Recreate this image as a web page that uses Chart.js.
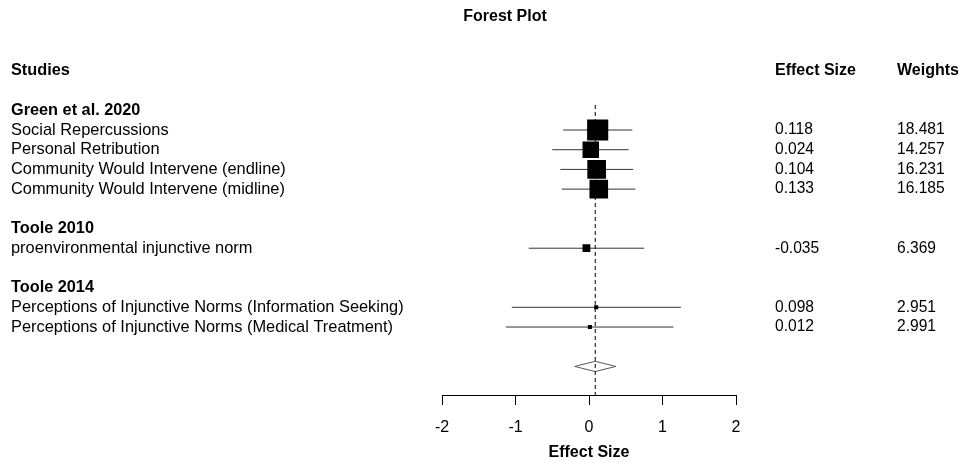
<!DOCTYPE html>
<html>
<head>
<meta charset="utf-8">
<title>Forest Plot</title>
<script src="https://cdn.jsdelivr.net/npm/chart.js@4.4.1/dist/chart.umd.min.js"></script>
<style>
  html, body { margin: 0; padding: 0; background: #fff; }
  canvas { display: block; }
</style>
</head>
<body>
<canvas id="forestChart" width="962" height="462"></canvas>
<script>
/* ===== DATA ===== */
const groups = ['Green et al. 2020', 'Toole 2010', 'Toole 2014'];
const studyGroup = [0, 0, 0, 0, 1, 2, 2];
const studies = [
  'Social Repercussions',
  'Personal Retribution',
  'Community Would Intervene (endline)',
  'Community Would Intervene (midline)',
  'proenvironmental injunctive norm',
  'Perceptions of Injunctive Norms (Information Seeking)',
  'Perceptions of Injunctive Norms (Medical Treatment)'
];
const effectSizes = [0.118, 0.024, 0.104, 0.133, -0.035, 0.098, 0.012];
const ciLower = [-0.35, -0.50, -0.39, -0.37, -0.82, -1.05, -1.13];
const ciUpper = [0.59, 0.54, 0.60, 0.63, 0.75, 1.25, 1.15];
const weights = [18.481, 14.257, 16.231, 16.185, 6.369, 2.951, 2.991];
const summaryEffect = 0.085;
const summaryLower = -0.195;
const summaryUpper = 0.365;
const xTicks = [-2, -1, 0, 1, 2];

/* ===== LAYOUT ===== */
const FONT = '"Liberation Sans", Arial, Helvetica, sans-serif';
const COL_STUDY = 11;
const COL_EFFECT = 775;
const COL_WEIGHT = 897;

// row numbers: group header, its studies, then one blank row
const headerRows = [];
const studyRows = [];
let row = 1;
groups.forEach((g, gi) => {
  headerRows.push(row++);
  studyGroup.forEach((sg, i) => {
    if (sg === gi) studyRows[i] = row++;
  });
  row++;
});
const summaryRow = row;
const Y_MAX = 15.45;

// side of the square grows with the weight
function boxRadius(w) {
  return (1.1 * w + 0.8) / (2 * Math.SQRT1_2);
}

const ciSets = studies.map((s, i) => ({
  data: [{ x: ciLower[i], y: studyRows[i] }, { x: ciUpper[i], y: studyRows[i] }],
  showLine: true,
  borderColor: '#333',
  borderWidth: 1,
  pointRadius: 0
}));

const textPlugin = {
  id: 'forestText',
  afterDraw(chart) {
    const { ctx, scales: { y } } = chart;
    ctx.save();
    ctx.fillStyle = '#000';
    ctx.textBaseline = 'middle';

    ctx.font = 'bold 16px ' + FONT;
    ctx.textAlign = 'center';
    ctx.fillText('Forest Plot', 505, 17);

    ctx.textAlign = 'left';
    const headY = y.getPixelForValue(-1);
    ctx.fillText('Effect Size', COL_EFFECT, headY);
    ctx.fillText('Weights', COL_WEIGHT, headY);

    ctx.font = 'bold 16.3px ' + FONT;
    ctx.fillText('Studies', COL_STUDY, headY);
    groups.forEach((g, gi) => {
      ctx.fillText(g, COL_STUDY, y.getPixelForValue(headerRows[gi]));
    });

    studies.forEach((s, i) => {
      const py = y.getPixelForValue(studyRows[i]);
      ctx.font = '16.4px ' + FONT;
      ctx.fillText(s, COL_STUDY, py);
      ctx.font = '15.6px ' + FONT;
      ctx.fillText(effectSizes[i].toFixed(3), COL_EFFECT, py);
      ctx.fillText(weights[i].toFixed(3), COL_WEIGHT, py);
    });
    ctx.restore();
  }
};

new Chart(document.getElementById('forestChart'), {
  type: 'scatter',
  data: {
    datasets: [
      {
        // study estimates
        data: effectSizes.map((e, i) => ({ x: e, y: studyRows[i] })),
        pointStyle: 'rect',
        pointRadius: ctx => boxRadius(weights[ctx.dataIndex]),
        backgroundColor: '#000',
        borderWidth: 0
      },
      {
        // reference line at the pooled estimate
        data: [{ x: summaryEffect, y: 0.73 }, { x: summaryEffect, y: Y_MAX }],
        showLine: true,
        borderColor: '#000',
        borderWidth: 1,
        borderDash: [4, 3],
        pointRadius: 0
      },
      {
        // pooled diamond
        data: [
          { x: summaryLower, y: summaryRow },
          { x: summaryEffect, y: summaryRow - 0.26 },
          { x: summaryUpper, y: summaryRow },
          { x: summaryEffect, y: summaryRow + 0.26 },
          { x: summaryLower, y: summaryRow }
        ],
        showLine: true,
        borderColor: '#555',
        borderWidth: 1,
        pointRadius: 0,
        fill: false
      },
      ...ciSets
    ]
  },
  options: {
    responsive: false,
    animation: false,
    events: [],
    layout: { padding: { left: 442, right: 226, top: 90.6, bottom: 0 } },
    plugins: {
      legend: { display: false },
      tooltip: { enabled: false }
    },
    scales: {
      x: {
        type: 'linear',
        position: 'bottom',
        min: -2,
        max: 2,
        afterBuildTicks: s => { s.ticks = xTicks.map(v => ({ value: v })); },
        afterFit: s => { s.height = 67; },
        grid: { display: true, drawOnChartArea: false, drawTicks: true, tickLength: 10, color: '#000', lineWidth: 1 },
        border: { display: true, color: '#000', width: 1 },
        ticks: { color: '#000', padding: 13, font: { family: FONT, size: 16 } },
        title: {
          display: true,
          text: 'Effect Size',
          color: '#000',
          padding: { top: 0, bottom: 0 },
          font: { family: FONT, size: 16, weight: 'bold' }
        }
      },
      y: {
        type: 'linear',
        display: false,
        min: 0,
        max: Y_MAX,
        reverse: true
      }
    }
  },
  plugins: [textPlugin]
});
</script>
</body>
</html>
